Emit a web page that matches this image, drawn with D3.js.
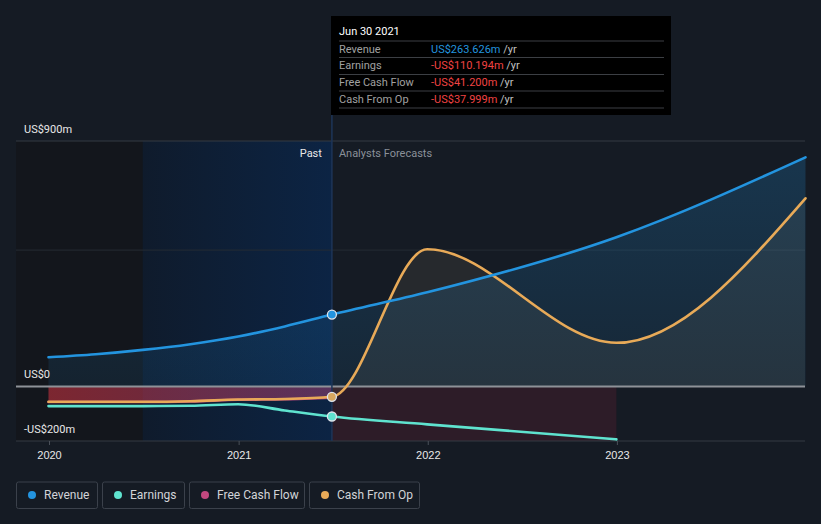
<!DOCTYPE html>
<html><head><meta charset="utf-8">
<script src="https://cdn.jsdelivr.net/npm/d3@7"></script>
<style>
html,body{margin:0;padding:0;background:#151b24;}
svg{display:block;font-family:Roboto, "Noto Sans", sans-serif;}
</style></head>
<body>
<svg id="chart" width="821" height="524"></svg>
<script>
// ---- data ----
const dates = ["2019-12-31","2020-03-31","2020-06-30","2020-09-30","2020-12-31","2021-03-31","2021-06-30","2021-12-31","2022-12-31","2023-12-31"];
const revenue = [107,118,134,155,183,220,263.6,345,547,840];
const earnings = [-72,-72,-72,-71,-65,-88,-110.2,-139,-194,null];
const freeCashFlow = [-57,-57,-57,-55,-49,-47,-41.2,null,null,null];
const cashFromOp = [-56,-56,-56,-54,-48,-46,-38,503,160,690];
const yTicks = [900,0,-200];
const yTickLabels = ["US$900m","US$0","-US$200m"];
const gridValues = [900,500,0,-200];
const xTickYears = [2020,2021,2022,2023];
const seriesNames = ["Revenue","Earnings","Free Cash Flow","Cash From Op"];
const seriesColors = ["#2394df","#5fe3cf","#c2487f","#e8aa58"];
const tooltipDate = "Jun 30 2021";
const tooltipValues = ["US$263.626m","-US$110.194m","-US$41.200m","-US$37.999m"];
const pastDate = "2021-06-30";
const highlightStart = "2020-06-30";
const negForecastEnd = "2022-12-31";

const parse = d3.timeParse("%Y-%m-%d");
const svg = d3.select("#chart");
const W = 821, H = 524;
const left = 16, right = 805;

const x = d3.scaleTime().domain([new Date(2020,0,1), new Date(2024,0,1)]).range([49, 806]);
const y = d3.scaleLinear().domain([-200, 900]).range([441, 141]);

const xPast = x(parse(pastDate));
const xHi = x(parse(highlightStart));

const defs = svg.append("defs");
const gBand = defs.append("linearGradient").attr("id","band").attr("x1","0").attr("x2","1").attr("y1","0").attr("y2","0");
gBand.append("stop").attr("offset","0").attr("stop-color","#0f1b2c");
gBand.append("stop").attr("offset","1").attr("stop-color","#0c2444");
const gRev = defs.append("linearGradient").attr("id","revfill").attr("x1","0").attr("x2","0").attr("y1","0").attr("y2","1");
gRev.append("stop").attr("offset","0").attr("stop-color","#2394df").attr("stop-opacity",0.22);
gRev.append("stop").attr("offset","1").attr("stop-color","#2394df").attr("stop-opacity",0.1);
const gFcf = defs.append("linearGradient").attr("id","fcffill").attr("x1","0").attr("x2","1").attr("y1","0").attr("y2","0");
gFcf.append("stop").attr("offset","0").attr("stop-color","#c8323f").attr("stop-opacity",0.58);
gFcf.append("stop").attr("offset","1").attr("stop-color","#c2487f").attr("stop-opacity",0.42);
defs.append("clipPath").attr("id","fclip").append("rect")
  .attr("x",xPast).attr("y",0).attr("width",right-xPast).attr("height",H);

svg.append("rect").attr("width",W).attr("height",H).attr("fill","#151b24");

// darker past area
svg.append("rect").attr("x",left).attr("y",141).attr("width",xHi-left).attr("height",441-141).attr("fill","#13161c");
// highlight band
svg.append("rect").attr("x",xHi).attr("y",141).attr("width",xPast-xHi).attr("height",441-141).attr("fill","url(#band)");
// negative forecast region
svg.append("rect").attr("x",xPast).attr("y",y(0)).attr("width",x(parse(negForecastEnd))-xPast).attr("height",y(-200)-y(0)).attr("fill","rgba(120,30,50,0.25)");

// gridlines
svg.selectAll(".grid").data(gridValues.filter(v=>v!==0)).enter().append("line")
  .attr("x1",left).attr("x2",right).attr("y1",d=>y(d)).attr("y2",d=>y(d))
  .attr("stroke",d=>d===500?"#252b34":"#343a43").attr("stroke-width",1);

const data = dates.map((d,i)=>({date:parse(d),rev:revenue[i],earn:earnings[i],fcf:freeCashFlow[i],cfo:cashFromOp[i]}));
const curve = d3.curveMonotoneX;

// areas
svg.append("path").attr("fill","rgba(200,170,130,0.1)").attr("clip-path","url(#fclip)")
  .attr("d",d3.area().curve(curve).x(d=>x(d.date)).y0(y(0)).y1(d=>y(d.cfo))(data));
svg.append("path").attr("fill","url(#revfill)")
  .attr("d",d3.area().curve(curve).x(d=>x(d.date)).y0(y(0)).y1(d=>y(d.rev))(data));
svg.append("path").attr("fill","url(#fcffill)")
  .attr("d",d3.area().curve(curve).x(d=>x(d.date)).y0(y(0)).y1(d=>y(d.fcf))(data.filter(d=>d.fcf!=null)));

// zero line
svg.append("line").attr("x1",left).attr("x2",right).attr("y1",y(0)).attr("y2",y(0)).attr("stroke","#8e9298").attr("stroke-width",2);

// past divider
svg.append("line").attr("x1",xPast).attr("x2",xPast).attr("y1",16).attr("y2",441).attr("stroke","#1d3558").attr("stroke-width",1.5);

// x axis
const xAxis = d3.axisBottom(x).tickValues(xTickYears.map(yr=>new Date(yr,0,1))).tickFormat(d3.timeFormat("%Y")).tickSize(4).tickPadding(6);
const gx = svg.append("g").attr("transform",`translate(0,${y(-200)})`).call(xAxis);
gx.select(".domain").remove();
gx.selectAll(".tick line").attr("stroke","#4a5059");
gx.selectAll(".tick text").attr("fill","#e8e8e8").attr("font-size",11);

// lines
const lineGen = key => d3.line().curve(curve).x(d=>x(d.date)).y(d=>y(d[key]));
const keys = ["rev","earn","fcf","cfo"];
[2,1,3,0].forEach(i=>{
  svg.append("path").attr("fill","none").attr("stroke",seriesColors[i]).attr("stroke-width",2.6)
    .attr("stroke-linecap","round").attr("d",lineGen(keys[i])(data.filter(d=>d[keys[i]]!=null)));
});

// dots at past point
const pd = data.find(d=>+d.date===+parse(pastDate));
[["rev",0],["earn",1],["cfo",3]].forEach(([k,i])=>{
  svg.append("circle").attr("cx",x(pd.date)).attr("cy",y(pd[k])).attr("r",4.5)
    .attr("fill",i===3?"#d9a860":seriesColors[i]).attr("stroke","#dfe3ea").attr("stroke-width",1.3);
});

// y labels
svg.selectAll(".ylab").data(yTicks).enter().append("text")
  .attr("x",24).attr("y",d=>y(d)-8).attr("fill","#e8e8e8").attr("font-size",11)
  .text((d,i)=>yTickLabels[i]);

// Past / forecast labels
svg.append("text").attr("x",xPast-10).attr("y",157).attr("text-anchor","end").attr("fill","#e8e8e8").attr("font-size",11).text("Past");
svg.append("text").attr("x",xPast+7).attr("y",157).attr("fill","#8a9099").attr("font-size",11).text("Analysts Forecasts");

// tooltip
const tt = svg.append("g");
tt.append("rect").attr("x",331).attr("y",16).attr("width",340).attr("height",99).attr("fill","#000");
tt.append("text").attr("x",339).attr("y",35).attr("fill","#fff").attr("font-size",11).text(tooltipDate);
const rowY = [41,57.5,74.5,91,108];
rowY.forEach(yy=>tt.append("line").attr("x1",339).attr("x2",664).attr("y1",yy).attr("y2",yy).attr("stroke","#3c3f44").attr("stroke-width",1));
seriesNames.forEach((n,i)=>{
  const by = rowY[i]+11.5;
  tt.append("text").attr("x",339).attr("y",by).attr("fill","#a0a0a0").attr("font-size",11).text(n);
  const t = tt.append("text").attr("x",431).attr("y",by).attr("font-size",11);
  t.append("tspan").attr("fill",i===0?"#2394df":"#f04343").text(tooltipValues[i]);
  t.append("tspan").attr("fill","#c0c0c0").text(" /yr");
});

// legend
const legX = [16,102,189,309];
const legW = [81,82,115,110];
seriesNames.forEach((n,i)=>{
  const g = svg.append("g").attr("transform",`translate(${legX[i]},481.5)`);
  g.append("rect").attr("x",0.5).attr("y",0.5).attr("width",legW[i]).attr("height",26.5).attr("rx",2)
    .attr("fill","none").attr("stroke","#3b414b");
  g.append("circle").attr("cx",16).attr("cy",13.5).attr("r",4).attr("fill",seriesColors[i]);
  g.append("text").attr("x",28).attr("y",17.5).attr("fill","#d2d4d8").attr("font-size",12).text(n);
});
</script>
</body></html>
